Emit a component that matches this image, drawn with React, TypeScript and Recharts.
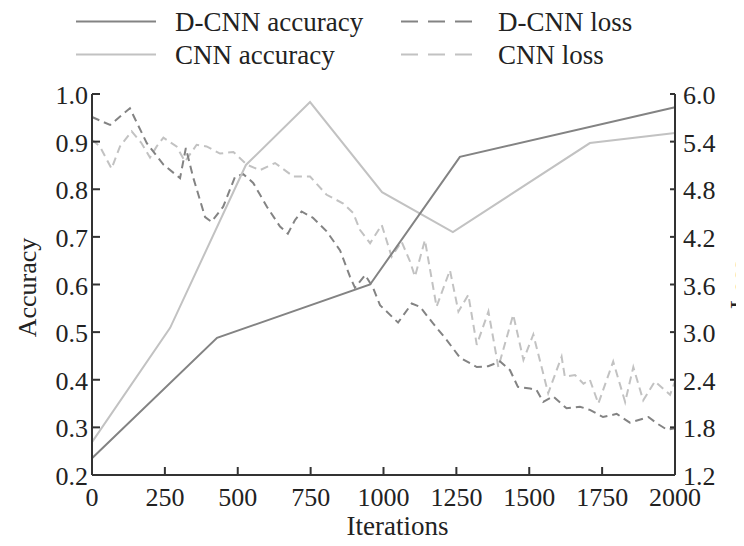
import React from 'react';
import { ComposedChart, Line, XAxis, YAxis } from 'recharts';

// ---- data ----
const iterTicks = [0, 250, 500, 750, 1000, 1250, 1500, 1750, 2000];
const accTicks = [0.2, 0.3, 0.4, 0.5, 0.6, 0.7, 0.8, 0.9, 1.0];
const lossTicks = [1.2, 1.8, 2.4, 3.0, 3.6, 4.2, 4.8, 5.4, 6.0];

const dcnnAccIter = [0, 429, 954, 1262, 2000];
const dcnnAccValues = [0.235, 0.488, 0.6, 0.868, 0.972];

const cnnAccIter = [0, 268, 528, 748, 995, 1238, 1708, 2000];
const cnnAccValues = [0.269, 0.509, 0.851, 0.983, 0.794, 0.71, 0.897, 0.918];

const dcnnLossIter = [
  0, 62, 130, 188, 245, 302, 322, 347, 388, 410, 450, 491, 519, 553, 600, 645, 672, 696, 719, 758,
  805, 851, 885, 902, 937, 964, 988, 1050, 1097, 1125, 1170, 1217, 1262, 1320, 1359, 1400, 1434,
  1461, 1503, 1525, 1548, 1582, 1628, 1674, 1708, 1753, 1800, 1845, 1909, 1938, 1973, 2000,
];
const dcnnLossValues = [
  5.71, 5.61, 5.82, 5.38, 5.11, 4.94, 5.32, 4.95, 4.45, 4.39, 4.58, 4.96, 4.99, 4.88, 4.58, 4.33,
  4.24, 4.41, 4.52, 4.44, 4.27, 4.03, 3.7, 3.56, 3.72, 3.56, 3.34, 3.12, 3.36, 3.32, 3.11, 2.9,
  2.68, 2.56, 2.57, 2.63, 2.52, 2.31, 2.29, 2.27, 2.12, 2.19, 2.04, 2.06, 2.02, 1.93, 1.97, 1.86,
  1.93, 1.85, 1.77, 1.79,
];

const cnnLossIter = [
  0, 27, 67, 96, 136, 170, 199, 222, 245, 290, 319, 359, 393, 439, 485, 531, 576, 628, 691, 748,
  805, 862, 896, 919, 954, 994, 1028, 1062, 1091, 1108, 1142, 1182, 1228, 1257, 1291, 1320, 1360,
  1394, 1445, 1480, 1514, 1565, 1611, 1622, 1657, 1686, 1708, 1737, 1788, 1829, 1857, 1891, 1931,
  1983, 2000,
];
const cnnLossValues = [
  5.42, 5.34, 5.06, 5.34, 5.53, 5.38, 5.2, 5.34, 5.45, 5.34, 5.15, 5.36, 5.34, 5.25, 5.27, 5.11,
  5.04, 5.13, 4.96, 4.96, 4.73, 4.62, 4.5, 4.29, 4.12, 4.35, 3.95, 4.14, 3.89, 3.7, 4.16, 3.32,
  3.78, 3.26, 3.47, 2.84, 3.26, 2.56, 3.22, 2.65, 2.97, 2.23, 2.69, 2.44, 2.46, 2.35, 2.4, 2.1,
  2.63, 2.12, 2.56, 2.14, 2.38, 2.21, 2.38,
];

const seriesNames = ['D-CNN accuracy', 'D-CNN loss', 'CNN accuracy', 'CNN loss'];

// ---- styles ----
const FONT = '"Liberation Serif", "Times New Roman", "DejaVu Serif", serif';
const TEXT = '#222222';
const AXIS = '#333333';
const DARK = '#838383';
const LIGHT = '#c2c2c2';
const DASH = '8 5';
const FS = 26;

const zip = (xs: number[], ys: number[], key: string) =>
  xs.map((x, i) => ({ iter: x, [key]: ys[i] }));

const dcnnAcc = zip(dcnnAccIter, dcnnAccValues, 'acc');
const cnnAcc = zip(cnnAccIter, cnnAccValues, 'acc');
const dcnnLoss = zip(dcnnLossIter, dcnnLossValues, 'loss');
const cnnLoss = zip(cnnLossIter, cnnLossValues, 'loss');

const BottomTick = (p: any) => (
  <text x={p.x} y={p.y + 31} textAnchor="middle" fontSize={FS} fontFamily={FONT} fill={TEXT}>
    {p.payload.value}
  </text>
);
const LeftTick = (p: any) => (
  <text x={p.x} y={p.y + 10} textAnchor="end" fontSize={FS} fontFamily={FONT} fill={TEXT}>
    {Number(p.payload.value).toFixed(1)}
  </text>
);
const RightTick = (p: any) => (
  <text x={p.x} y={p.y + 10} textAnchor="start" fontSize={FS} fontFamily={FONT} fill={TEXT}>
    {Number(p.payload.value).toFixed(1)}
  </text>
);
const NoTick = () => <g />;

const legendItems = [
  { name: seriesNames[0], color: DARK, dashed: false, col: 0, row: 0 },
  { name: seriesNames[1], color: DARK, dashed: true, col: 1, row: 0 },
  { name: seriesNames[2], color: LIGHT, dashed: false, col: 0, row: 1 },
  { name: seriesNames[3], color: LIGHT, dashed: true, col: 1, row: 1 },
];

const Legend2 = () => (
  <svg width={736} height={72} style={{ position: 'absolute', left: 0, top: 0, overflow: 'visible' }}>
    {legendItems.map((it) => {
      const base = 22.5 + it.row * 33;
      const lx = it.col === 0 ? 68 : 393;
      const tx = it.col === 0 ? 167 : 490;
      return (
        <g key={it.name}>
          <line
            x1={lx}
            x2={lx + 80}
            y1={base - 9}
            y2={base - 9}
            stroke={it.color}
            strokeWidth={2}
            strokeDasharray={it.dashed ? '17 10' : undefined}
          />
          <text x={tx} y={base} fontSize={27} fontFamily={FONT} fill={TEXT}>
            {it.name}
          </text>
        </g>
      );
    })}
  </svg>
);

export default function App() {
  return (
    <div style={{ position: 'relative', width: 736, height: 538, background: '#fff' }}>
      <ComposedChart width={736} height={538} margin={{ top: 86, right: 0, bottom: 8, left: 0 }}>
        <XAxis
          xAxisId="x"
          dataKey="iter"
          type="number"
          domain={[0, 2000]}
          ticks={iterTicks}
          height={63}
          tickSize={-8}
          tickMargin={8}
          axisLine={{ stroke: AXIS, strokeWidth: 2 }}
          tickLine={{ stroke: AXIS, strokeWidth: 2 }}
          tick={<BottomTick />}
          interval={0}
          allowDuplicatedCategory={false}
          label={{
            content: (p: any) => {
              const vb = p.viewBox || { x: 84, y: 467, width: 583, height: 63 };
              return (
                <text
                  x={vb.x + vb.width / 2 + 14}
                  y={vb.y + 60}
                  textAnchor="middle"
                  fontSize={27}
                  fontFamily={FONT}
                  fill={TEXT}
                >
                  Iterations
                </text>
              );
            },
          }}
        />
        <XAxis
          xAxisId="top"
          orientation="top"
          dataKey="iter"
          type="number"
          domain={[0, 2000]}
          ticks={iterTicks}
          height={0}
          tickSize={-8}
          axisLine={{ stroke: AXIS, strokeWidth: 2 }}
          tickLine={{ stroke: AXIS, strokeWidth: 2 }}
          tick={<NoTick />}
          interval={0}
        />
        <YAxis
          yAxisId="acc"
          type="number"
          domain={[0.2, 1.0]}
          ticks={accTicks}
          width={84}
          tickSize={-8}
          tickMargin={12}
          axisLine={{ stroke: AXIS, strokeWidth: 2 }}
          tickLine={{ stroke: AXIS, strokeWidth: 2 }}
          tick={<LeftTick />}
          interval={0}
          label={{
            content: (p: any) => {
              const vb = p.viewBox || { x: 0, y: 86, width: 84, height: 381 };
              const cx = vb.x + 19;
              const cy = vb.y + vb.height / 2 + 3;
              return (
                <text
                  x={cx}
                  y={cy}
                  transform={`rotate(-90 ${cx} ${cy})`}
                  textAnchor="middle"
                  dominantBaseline="central"
                  fontSize={FS}
                  fontFamily={FONT}
                  fill={TEXT}
                >
                  Accuracy
                </text>
              );
            },
          }}
        />
        <YAxis
          yAxisId="loss"
          orientation="right"
          type="number"
          domain={[1.2, 6.0]}
          ticks={lossTicks}
          width={69}
          tickSize={-5}
          tickMargin={13}
          axisLine={{ stroke: AXIS, strokeWidth: 2 }}
          tickLine={{ stroke: AXIS, strokeWidth: 2 }}
          tick={<RightTick />}
          interval={0}
          label={{
            content: (p: any) => {
              const vb = p.viewBox || { x: 667, y: 86, width: 69, height: 381 };
              const cx = vb.x + 64;
              const cy = vb.y + vb.height / 2;
              return (
                <text
                  x={cx}
                  y={cy}
                  transform={`rotate(-90 ${cx} ${cy})`}
                  textAnchor="middle"
                  dominantBaseline="central"
                  fontSize={FS}
                  fontFamily={FONT}
                  fill={TEXT}
                >
                  Loss
                </text>
              );
            },
          }}
        />
        <Line
          name={seriesNames[3]}
          data={cnnLoss}
          dataKey="loss"
          xAxisId="x"
          yAxisId="loss"
          stroke={LIGHT}
          strokeWidth={2}
          strokeDasharray={DASH}
          dot={false}
          activeDot={false}
          isAnimationActive={false}
          type="linear"
        />
        <Line
          name={seriesNames[1]}
          data={dcnnLoss}
          dataKey="loss"
          xAxisId="x"
          yAxisId="loss"
          stroke={DARK}
          strokeWidth={2}
          strokeDasharray={DASH}
          dot={false}
          activeDot={false}
          isAnimationActive={false}
          type="linear"
        />
        <Line
          name={seriesNames[2]}
          data={cnnAcc}
          dataKey="acc"
          xAxisId="x"
          yAxisId="acc"
          stroke={LIGHT}
          strokeWidth={2}
          dot={false}
          activeDot={false}
          isAnimationActive={false}
          type="linear"
        />
        <Line
          name={seriesNames[0]}
          data={dcnnAcc}
          dataKey="acc"
          xAxisId="x"
          yAxisId="acc"
          stroke={DARK}
          strokeWidth={2}
          dot={false}
          activeDot={false}
          isAnimationActive={false}
          type="linear"
        />
      </ComposedChart>
      <Legend2 />
    </div>
  );
}
